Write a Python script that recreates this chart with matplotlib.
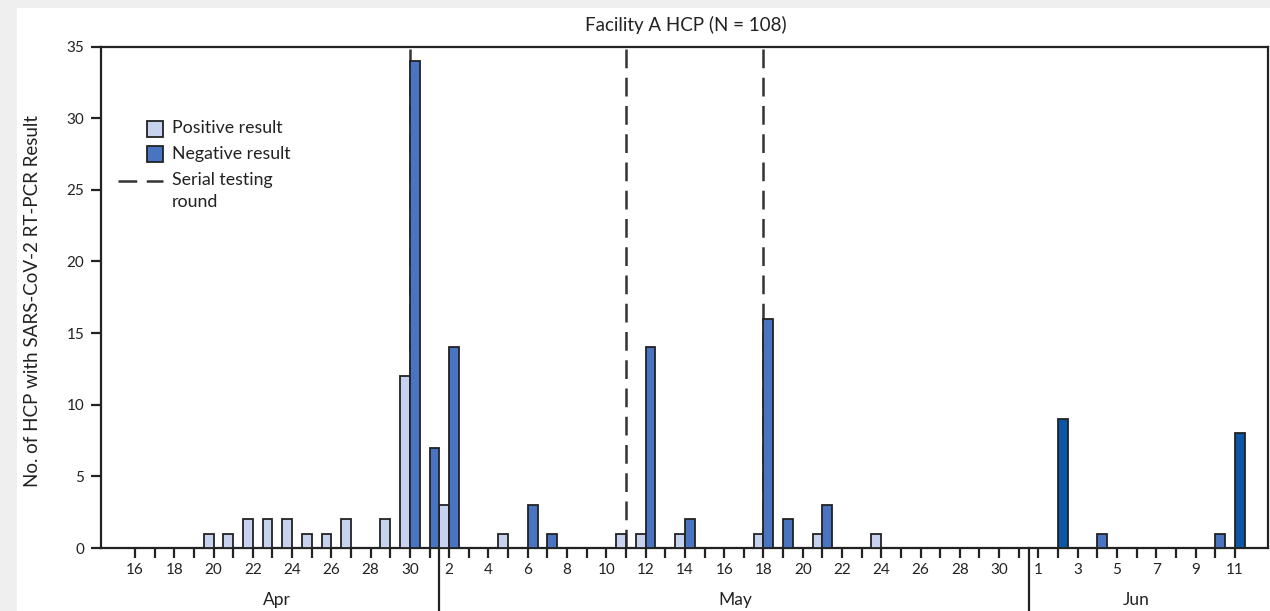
import matplotlib
matplotlib.use("Agg")
import matplotlib.pyplot as plt
from matplotlib.patches import Rectangle
from matplotlib.lines import Line2D

# Day index: April 1 = 1, May 1 = 31, June 1 = 62
pos_days = [20, 21, 22, 23, 24, 25, 26, 27, 29, 30, 32, 35, 41, 42, 44, 48, 51, 54]
pos_vals = [1, 1, 2, 2, 2, 1, 1, 2, 2, 12, 3, 1, 1, 1, 1, 1, 1, 1]
neg_days = [30, 31, 32, 36, 37, 42, 44, 48, 49, 51, 63, 65, 71, 72]
neg_vals = [34, 7, 14, 3, 1, 14, 2, 16, 2, 3, 9, 1, 1, 8]
serial_rounds = [30, 41, 48]
tick_days = list(range(16, 73))
tick_labels = ([str(d) if d % 2 == 0 else "" for d in range(16, 31)] +
               [str(d) if d % 2 == 0 else "" for d in range(1, 32)] +
               [str(d) if d % 2 == 1 else "" for d in range(1, 12)])
months = ["Apr", "May", "Jun"]

FONT = "Lato"
plt.rcParams['font.family'] = [FONT, 'DejaVu Sans']

W, H = 1270, 611
fig = plt.figure(figsize=(W / 100, H / 100), dpi=100, facecolor="#efefef")
fig.patches.append(Rectangle((17 / W, 0), 1 - 17 / W, 1 - 7.5 / H,
                             transform=fig.transFigure, facecolor="white",
                             edgecolor="none", zorder=-10))

L, R, T, B = 101, 1268, 46.5, 548
ax = fig.add_axes([L / W, 1 - B / H, (R - L) / W, (B - T) / H])
ax.set_xlim(14.27, 73.69)
ax.set_ylim(0, 35)

pos_color = "#c6d2ee"
neg_colors = ["#0b57a6" if d in (63, 72) else "#4874c2" for d in neg_days]
edge = "#222222"

for d in serial_rounds:
    ax.axvline(d, color="#333333", lw=1.8, dashes=(7.5, 3.8), zorder=1)

ax.bar(pos_days, pos_vals, width=-0.5, align="edge", color=pos_color,
       edgecolor=edge, linewidth=1.3, zorder=3)
ax.bar(neg_days, neg_vals, width=0.5, align="edge", color=neg_colors,
       edgecolor=edge, linewidth=1.3, zorder=3)

for s in ax.spines.values():
    s.set_linewidth(1.6)
    s.set_color("#222222")

ax.set_yticks(range(0, 36, 5))
ax.set_xticks(tick_days)
ax.set_xticklabels(tick_labels)
ax.tick_params(axis="both", direction="out", length=7, width=1.6,
               color="#222222", labelsize=11, labelcolor="#222222")
ax.tick_params(axis="x", pad=4)
ax.tick_params(axis="y", pad=5)

fig.text(33 / W, 1 - 301 / H, "No. of HCP with SARS-CoV-2 RT-PCR Result",
         rotation=90, ha="center", va="center", fontsize=13.5, color="#222222")
fig.text(686 / W, 1 - 25 / H, "Facility A HCP (N = 108)", ha="center",
         va="center", fontsize=13.5, color="#222222")

# month separators and labels
for x in [31.5, 61.5]:
    ax.plot([x, x], [0, -4.4], color="#222222", lw=1.6, clip_on=False, zorder=4)
for name, x in zip(months, [23.23, 46.55, 67.0]):
    ax.text(x, -3.6, name, ha="center", va="center", fontsize=12.5,
            color="#222222")

# legend (manual)
def ax_xy(px, py):
    return ((px - L) / (R - L), (B - py) / (B - T))

for py, col in [(121, pos_color), (146, "#4874c2")]:
    x0, y0 = ax_xy(147, py + 16)
    x1, y1 = ax_xy(163, py)
    ax.add_patch(Rectangle((x0, y0), x1 - x0, y1 - y0, transform=ax.transAxes,
                           facecolor=col, edgecolor=edge, lw=1.3, zorder=5))
xa, ya = ax_xy(118, 181)
xb, _ = ax_xy(163, 181)
ax.add_line(Line2D([xa, xb], [ya, ya], transform=ax.transAxes, color="#333333",
                   lw=1.8, dashes=(7.5, 3.8), zorder=5))
for txt, py in [("Positive result", 128), ("Negative result", 154),
                ("Serial testing", 180), ("round", 202)]:
    tx, ty = ax_xy(172, py)
    ax.text(tx, ty, txt, transform=ax.transAxes, ha="left", va="center",
            fontsize=12.8, color="#222222")

fig.savefig("out.png", dpi=100, facecolor=fig.get_facecolor())
